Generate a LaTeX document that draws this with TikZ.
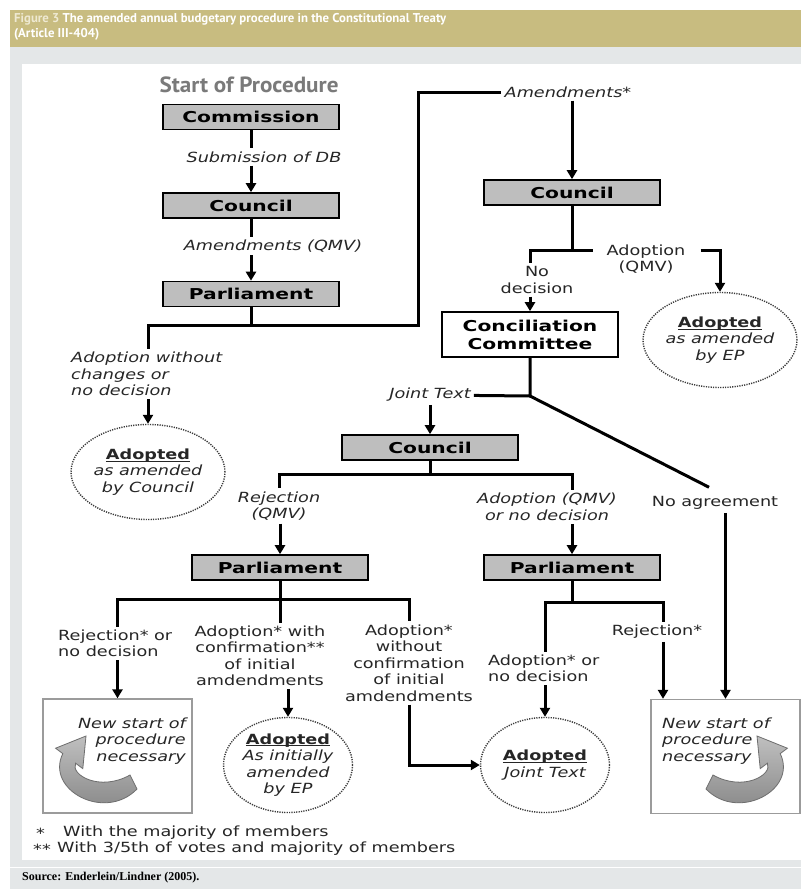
\documentclass[tikz,border=0pt]{standalone}
\usepackage{fontspec}
\setmainfont{DejaVu Sans}[FakeStretch=1.26]
\newfontfamily\boxfont{DejaVu Sans}[FakeStretch=1.35]
\newfontfamily\headfont{PT Sans}
\newfontfamily\startfont{PT Sans}[FakeStretch=1.05]
\newfontfamily\srcfont{Liberation Serif}
\usetikzlibrary{positioning,arrows.meta,shapes.geometric}
\definecolor{titleband}{HTML}{C8BC80}
\definecolor{titlefaint}{HTML}{EEE9D2}
\definecolor{panelgray}{HTML}{E4E7E8}
\definecolor{boxgray}{HTML}{BEBEBE}
\definecolor{startgray}{HTML}{7A7A7A}
\definecolor{txt}{HTML}{262626}
\definecolor{dotgray}{HTML}{3A3A3A}
\definecolor{framegray}{HTML}{9B9B9B}
\definecolor{turnline}{HTML}{6E6E6E}
\newcommand\adoptline[1]{\setbox0\hbox{#1}\rlap{\rule[-2.2pt]{\wd0}{1pt}}\box0}

\begin{document}
\begin{tikzpicture}[x=1pt, y=-1pt,
  box/.style={draw, line width=1.6pt, fill=boxgray, minimum width=176pt, minimum height=25pt, inner sep=0pt, align=center, font=\boxfont\bfseries\fontsize{15}{18}\selectfont},
  wbox/.style={box, fill=white, minimum height=45pt},
  lbl/.style={font=\fontsize{14}{16.5}\selectfont, text=txt, align=center, inner sep=3pt},
  ilbl/.style={lbl, font=\fontsize{14}{16.5}\selectfont\itshape},
  adopted/.style={ellipse, draw=dotgray, line width=1.4pt, dash pattern=on 1.2pt off 1.2pt, minimum width=129pt, minimum height=95pt, inner sep=0pt, align=center, text=txt, font=\fontsize{14}{16.5}\selectfont\itshape},
  newbox/.style={draw=framegray, line width=1.3pt, minimum width=149pt, minimum height=114pt},
  conn/.style={line width=3pt},
  arrow/.style={conn, -{Triangle[width=10pt,length=9pt]}},
  turnarrow/.style={top color=black!25, bottom color=black!50, draw=turnline, line width=0.8pt}
]
\useasboundingbox (0,0) rectangle (801,889);

% frame and title
\fill[titleband] (10,10) rectangle (801,47);
\fill[panelgray] (10,47) rectangle (801,889);
\fill[white] (22,64) rectangle (801,860);
\draw[white, line width=1pt] (10,867) -- (801,867);
\node[anchor=north west, align=left, inner sep=0pt, text=white, font=\headfont\bfseries\fontsize{12.8}{15}\selectfont] (title) at (14,13)
  {\textcolor{titlefaint}{Figure 3} The amended annual budgetary procedure in the Constitutional Treaty\\(Article III-404)};

% first reading
\node[text=startgray, font=\startfont\bfseries\fontsize{22}{24}\selectfont] (start) at (249,85) {Start of Procedure};
\node[box] (com) at (251,117) {Commission};
\node[ilbl] (sub) at (264,157) {Submission of DB};
\node[box] (cou1) at (251,205.5) {Council};
\node[ilbl] (amq) at (273,246) {Amendments (QMV)};
\node[box] (par1) at (251,294) {Parliament};
\coordinate (j1) at (251,325);
\coordinate (bend1) at (418,92);
\node[ilbl, anchor=west, align=left] (awc) at (68,374) {Adoption without\\changes or\\no decision};
\node[adopted] (adc) at (148,472) {{\upshape\bfseries\adoptline{Adopted}}\\as amended\\by Council};

% second council reading
\node[ilbl] (amd) at (568,92) {Amendments*};
\node[box] (cou2) at (572,192.5) {Council};
\coordinate (j2) at (572,250);
\node[lbl] (adq) at (646,259) {Adoption\\(QMV)};
\node[lbl] (nodec) at (537,280) {No\\decision};
\node[wbox] (ccom) at (530,334.5) {Conciliation\\Committee};
\node[adopted] (ade) at (720,340) {{\upshape\bfseries\adoptline{Adopted}}\\as amended\\by EP};
\coordinate (j3) at (530,396);
\node[ilbl] (jt) at (430,395) {Joint Text};
\node[lbl] (noag) at (715,503) {No agreement};

% joint text
\node[box] (cou3) at (430,447.5) {Council};
\coordinate (j4) at (430,474);
\node[ilbl] (rq) at (279,506) {Rejection\\(QMV)};
\node[ilbl] (adqn) at (547,507) {Adoption (QMV)\\or no decision};
\node[box] (par2) at (280,567.5) {Parliament};
\node[box] (par3) at (572,567.5) {Parliament};
\coordinate (j5) at (280,599);
\coordinate (j6) at (572,602);
\node[lbl, anchor=west, align=left] (rnd) at (55,643.5) {Rejection* or\\no decision};
\node[lbl] (awci) at (260,656) {Adoption* with\\confirmation**\\of initial\\amdendments};
\node[lbl] (awoc) at (409,663) {Adoption*\\without\\confirmation\\of initial\\amdendments};
\node[lbl, anchor=west, align=left] (adnd) at (485,668.5) {Adoption* or\\no decision};
\node[lbl] (rej) at (657,632) {Rejection*};

% outcomes
\node[adopted] (aie) at (288,765) {{\upshape\bfseries\adoptline{Adopted}}\\As initially\\amended\\by EP};
\node[adopted] (ajt) at (545,765) {{\upshape\bfseries\adoptline{Adopted}}\\Joint Text};
\node[newbox] (nsl) at (117.5,756) {};
\node[newbox] (nsr) at (725.5,756.5) {};
\node[ilbl, anchor=east, align=right] (nslt) at (189,741) {New start of\\procedure\\necessary};
\node[ilbl, anchor=west, align=left] (nsrt) at (659,741) {New start of\\procedure\\necessary};

% curved arrows in the boxes
\draw[turnarrow] (137,789) .. controls (105,822) and (45,790) .. (62.8,753.6)
  -- (55.6,748.2) -- (86,736) -- (82.8,768.6) -- (75.6,763.2)
  .. controls (70,775) and (100,792) .. (130,775) -- cycle;
\begin{scope}[xshift=843pt, xscale=-1]
\draw[turnarrow] (137,789) .. controls (105,822) and (45,790) .. (62.8,753.6)
  -- (55.6,748.2) -- (86,736) -- (82.8,768.6) -- (75.6,763.2)
  .. controls (70,775) and (100,792) .. (130,775) -- cycle;
\end{scope}

% footnotes and source
\node[lbl, anchor=west, inner sep=0pt] (fn1m) at (36,833) {*};
\node[lbl, anchor=west, inner sep=0pt] (fn1) at (63,833) {With the majority of members};
\node[lbl, anchor=west, inner sep=0pt] (fn2m) at (33,849) {**};
\node[lbl, anchor=west, inner sep=0pt] (fn2) at (57,849) {With 3/5th of votes and majority of members};
\node[anchor=west, inner sep=0pt, font=\srcfont\bfseries\fontsize{12}{14}\selectfont] (src) at (22,878) {Source: Enderlein/Lindner (2005).};

% connectors
\draw[conn] (com.south) -- (com.south |- sub.north);
\draw[arrow] (sub.south -| cou1) -- (cou1);
\draw[conn] (cou1.south) -- (cou1.south |- amq.north);
\draw[arrow] (amq.south -| par1) -- (par1);
\draw[conn] (par1) -- (j1) -| (bend1) -- (amd);
\draw[conn] (j1) -| (awc.north -| adc);
\draw[arrow] (awc.south -| adc) -- (adc);
\draw[arrow] (amd.south -| cou2) -- (cou2);
\draw[conn] (cou2) -- (j2) -| (nodec.north -| ccom);
\draw[conn] (j2) -- ([xshift=-10pt]adq.west |- j2);
\draw[arrow] ([xshift=12pt]adq.east |- j2) -| (ade);
\draw[arrow] (nodec.south -| ccom) -- (ccom);
\draw[conn] (ccom) -- (j3) -- (jt);
\draw[conn] (j3) -- ([xshift=-6pt,yshift=6pt]noag.north);
\draw[arrow] (noag.south -| nsr) -- (nsr);
\draw[arrow] (jt) -- (cou3);
\draw[conn] (cou3) -- (j4) -| (rq);
\draw[conn] (j4) -| (adqn.north -| par3);
\draw[arrow] (rq.south -| par2) -- (par2);
\draw[arrow] (adqn.south -| par3) -- (par3);
\draw[conn] (par2) -- (j5) -| (rnd.north -| nsl);
\draw[conn] (j5) -- (awci.north -| j5);
\draw[conn] (j5) -| (awoc);
\draw[arrow] (rnd.south -| nsl) -- (nsl);
\draw[arrow] (awci.south -| aie) -- (aie);
\draw[arrow] (awoc) |- (ajt);
\draw[conn] (par3) -- (j6) -| (adnd.north -| ajt);
\draw[conn] (j6) -| ([xshift=6pt]rej.north);
\draw[arrow] ([xshift=6pt]rej.south) -- ([xshift=6pt]rej.south |- nsr.north);
\draw[arrow] (adnd.south -| ajt) -- (ajt);
\end{tikzpicture}
\end{document}
